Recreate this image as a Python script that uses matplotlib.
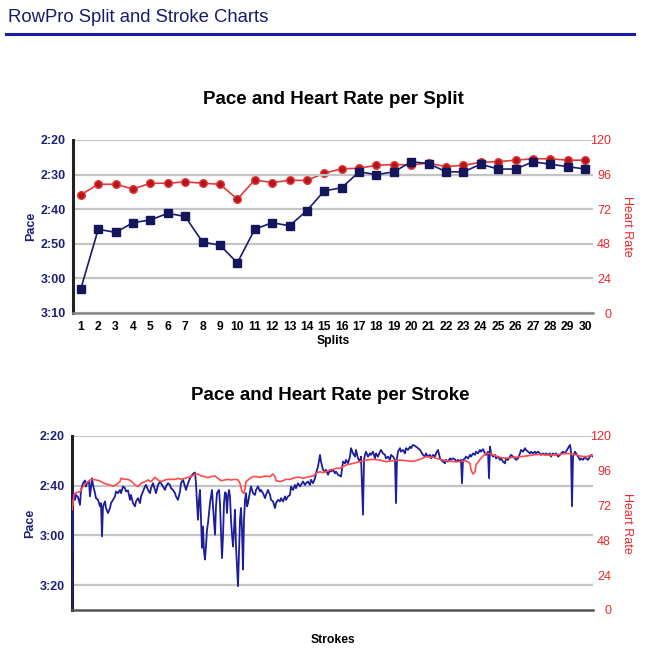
import matplotlib
matplotlib.use("Agg")
import matplotlib.pyplot as plt
from matplotlib.lines import Line2D
from matplotlib.ticker import FuncFormatter

plt.rcParams['font.family'] = ['Liberation Sans', 'DejaVu Sans']

# ---------------- data ----------------
splits = list(range(1, 31))
split_pace = [183.0, 165.8, 166.7, 163.9, 163.1, 161.2, 162.1, 169.5, 170.4, 175.5,
              165.8, 163.9, 164.8, 160.4, 154.7, 153.8, 149.2, 150.0, 149.2, 146.3,
              146.8, 149.2, 149.2, 147.0, 148.4, 148.4, 146.3, 147.0, 147.7, 148.4]
split_hr = [82, 89.3, 89.3, 86, 90, 90, 91, 90, 89.3, 79,
            92.3, 90.5, 92, 92, 97, 100, 100.4, 102.5, 103, 102.7,
            104, 101.5, 102.5, 104.5, 105, 106, 107, 107, 106, 106]

stroke_pace_x = [0, 1, 3, 4, 6, 8, 9, 11, 13, 14, 15, 17, 18, 20, 21, 23, 24, 26, 28, 29,
                 30, 31, 33, 34, 36, 38, 39, 41, 43, 44, 46, 48, 49, 51, 53, 54, 56, 58, 59, 61,
                 63, 64, 66, 68, 69, 71, 73, 74, 76, 78, 79, 81, 83, 84, 86, 88, 89, 91, 93, 94,
                 96, 98, 99, 101, 103, 104, 106, 108, 109, 111, 113, 114, 116, 118, 119, 121, 123, 124, 125, 126,
                 127, 128, 129, 130, 131, 132, 133, 134, 135, 136, 138, 139, 140, 141, 142, 143, 144, 145, 146, 147,
                 148, 149, 150, 151, 152, 153, 154, 155, 156, 157, 158, 159, 160, 161, 162, 163, 164, 165, 166, 167,
                 168, 169, 170, 171, 172, 173, 174, 175, 176, 178, 179, 181, 183, 184, 186, 188, 189, 191, 193, 194,
                 196, 198, 199, 201, 203, 204, 206, 208, 209, 211, 213, 214, 216, 218, 219, 221, 223, 224, 226, 228,
                 229, 231, 233, 234, 236, 238, 239, 241, 243, 244, 246, 248, 249, 251, 253, 254, 256, 258, 259, 261,
                 263, 264, 266, 269, 271, 273, 274, 276, 278, 279, 281, 283, 284, 286, 288, 289, 291, 292, 293, 294,
                 296, 298, 299, 301, 303, 304, 306, 308, 309, 311, 313, 314, 316, 318, 319, 321, 323, 324, 325, 326,
                 328, 329, 331, 333, 334, 336, 338, 339, 341, 343, 344, 346, 348, 349, 351, 353, 354, 356, 358, 359,
                 361, 363, 364, 366, 368, 369, 371, 373, 374, 376, 378, 379, 381, 383, 384, 386, 388, 389, 390, 391,
                 393, 394, 396, 398, 399, 401, 403, 404, 406, 408, 409, 411, 413, 414, 416, 417, 418, 419, 421, 423,
                 424, 426, 428, 429, 431, 433, 434, 436, 438, 439, 441, 443, 444, 446, 448, 449, 451, 453, 454, 456,
                 458, 459, 461, 463, 464, 466, 468, 469, 471, 473, 474, 476, 478, 479, 481, 483, 484, 486, 488, 489,
                 491, 493, 494, 496, 498, 499, 500, 501, 503, 504, 506, 508, 509, 511, 513, 514, 516, 518, 519, 521]
stroke_pace = [209.0, 162.3, 165.7, 163.7, 164.6, 167.7, 161.7, 159.0, 157.9, 160.3, 159.0, 158.3, 164.3, 157.0, 159.7, 163.0, 165.0, 165.7, 168.3, 167.0,
               180.4, 168.3, 166.3, 169.0, 171.0, 169.0, 167.0, 165.7, 164.3, 162.3, 163.0, 161.7, 163.0, 160.3, 161.0, 162.3, 161.9, 165.7, 163.7, 167.0,
               168.3, 166.3, 165.0, 167.0, 164.3, 162.3, 160.3, 159.7, 161.7, 163.0, 161.0, 159.0, 161.7, 163.0, 159.7, 158.3, 159.0, 160.3, 161.7, 160.3,
               159.0, 159.7, 161.0, 161.7, 163.0, 164.3, 165.7, 162.3, 159.0, 157.6, 160.3, 161.7, 159.0, 157.0, 156.3, 155.2, 154.7, 159.0, 167.0, 173.7,
               165.7, 161.7, 173.7, 185.0, 176.4, 186.4, 189.7, 184.4, 177.7, 175.0, 167.0, 164.3, 161.7, 168.3, 173.7, 179.7, 168.3, 163.0, 162.3, 161.7,
               167.0, 179.0, 189.1, 180.4, 167.0, 162.7, 163.0, 171.0, 164.3, 161.7, 164.3, 173.7, 179.7, 184.4, 177.7, 169.7, 184.4, 192.4, 200.4, 187.1,
               173.7, 169.0, 177.7, 193.7, 173.7, 165.7, 163.0, 168.3, 167.0, 162.3, 160.3, 163.0, 163.7, 161.7, 160.3, 162.3, 161.7, 163.0, 165.0, 163.7,
               161.7, 163.7, 165.7, 166.3, 169.0, 167.0, 165.7, 166.3, 165.0, 166.3, 164.3, 165.7, 164.3, 163.7, 160.3, 161.7, 159.7, 161.0, 159.0, 160.3,
               159.7, 158.3, 159.7, 159.0, 158.3, 159.7, 157.6, 159.0, 157.0, 155.0, 152.3, 147.6, 150.3, 153.6, 154.3, 153.6, 155.6, 153.6, 154.3, 153.6,
               155.0, 154.3, 155.6, 156.3, 150.3, 151.0, 149.6, 151.0, 148.3, 144.9, 147.0, 148.3, 145.6, 149.0, 150.3, 148.3, 171.7, 149.6, 147.6, 146.3,
               148.3, 147.0, 147.6, 146.3, 149.0, 147.0, 148.3, 146.3, 145.6, 147.0, 147.6, 149.0, 148.3, 149.6, 147.6, 148.3, 149.6, 167.0, 149.0, 146.3,
               144.9, 146.3, 145.6, 147.0, 144.9, 145.6, 144.3, 144.9, 143.6, 144.0, 144.3, 144.9, 145.6, 146.3, 147.6, 148.3, 147.0, 148.3, 147.6, 149.0,
               147.6, 148.3, 147.0, 145.6, 149.0, 149.6, 150.3, 151.0, 149.6, 150.3, 149.0, 149.6, 149.0, 149.4, 150.3, 149.6, 150.3, 149.6, 159.0, 149.6,
               149.0, 148.3, 149.0, 147.6, 148.3, 147.0, 147.6, 146.3, 147.0, 145.6, 146.3, 145.3, 147.0, 147.6, 146.3, 157.0, 144.3, 147.0, 148.3, 147.6,
               149.0, 148.3, 149.6, 149.0, 150.3, 151.0, 149.0, 149.6, 148.3, 147.6, 148.3, 149.0, 149.6, 149.0, 147.0, 145.6, 146.3, 144.9, 145.6, 146.3,
               147.0, 146.3, 147.0, 146.3, 147.0, 146.3, 147.0, 147.6, 147.0, 147.6, 147.0, 147.6, 147.0, 148.3, 147.0, 147.6, 147.0, 148.3, 147.6, 147.0,
               146.3, 147.0, 146.3, 144.9, 143.6, 146.3, 168.3, 148.3, 146.3, 147.0, 148.3, 149.6, 149.0, 149.6, 148.3, 149.0, 149.6, 148.3, 147.6, 148.3]

stroke_hr_x = [0, 2, 4, 8, 11, 14, 18, 21, 24, 28, 31, 34, 38, 41, 44, 48, 49, 53, 56, 59,
               63, 66, 69, 73, 76, 79, 83, 86, 89, 93, 96, 99, 103, 106, 109, 113, 116, 119, 123, 126,
               129, 133, 136, 139, 143, 146, 149, 153, 156, 159, 163, 166, 168, 170, 172, 173, 174, 178, 181, 184,
               188, 191, 194, 198, 201, 203, 204, 208, 211, 214, 218, 221, 224, 228, 231, 234, 238, 241, 244, 248,
               251, 254, 258, 261, 264, 268, 274, 281, 288, 294, 301, 308, 314, 321, 328, 334, 341, 348, 354, 361,
               368, 374, 381, 388, 394, 398, 399, 401, 403, 404, 408, 411, 414, 418, 421, 428, 434, 441, 448, 454,
               461, 468, 474, 481, 488, 494, 501, 508, 514, 521]
stroke_hr = [69.0, 79.3, 80.9, 81.6, 85.1, 87.4, 89.7, 90.1, 89.7, 89.0, 87.8, 86.9, 86.2, 85.5, 86.2, 88.5, 90.8, 90.1, 90.1, 89.0,
             86.2, 85.1, 87.4, 88.5, 89.7, 88.5, 91.5, 89.7, 88.5, 89.7, 90.1, 90.1, 90.1, 90.8, 90.1, 90.8, 91.5, 92.0, 93.6, 93.8,
             92.4, 92.0, 91.3, 92.0, 92.4, 90.8, 89.2, 89.7, 90.1, 89.7, 90.1, 89.7, 87.4, 81.6, 80.5, 83.9, 88.5, 90.8, 92.0, 92.0,
             91.5, 92.0, 92.4, 92.0, 93.8, 92.0, 89.2, 88.5, 89.2, 90.1, 90.1, 90.8, 91.5, 91.5, 90.8, 91.5, 92.0, 92.4, 94.3, 95.4,
             94.7, 95.4, 96.6, 97.0, 97.7, 97.7, 100.0, 101.1, 102.3, 103.4, 103.9, 103.4, 102.3, 103.0, 103.4, 103.0, 102.5, 103.9, 105.7, 105.3,
             103.9, 103.0, 102.3, 102.3, 103.0, 101.1, 96.6, 93.8, 95.4, 100.0, 103.9, 106.2, 108.0, 108.0, 106.9, 105.3, 104.6, 105.3, 105.7, 106.2,
             106.9, 107.4, 106.9, 106.9, 107.4, 108.0, 107.6, 106.2, 105.7, 106.9]

NAVY = '#1f1f78'
RED = '#e8262b'
GRID = '#c4c4c4'


def pace_fmt(v, pos):
    v = int(round(v))
    return f"{v // 60}:{v % 60:02d}"


def style_axes(ax, ax2, bottom_color):
    ax.yaxis.set_major_formatter(FuncFormatter(pace_fmt))
    ax.yaxis.grid(True, color=GRID, lw=1.6)
    ax.set_axisbelow(True)
    for s in ['top', 'right']:
        ax.spines[s].set_visible(False)
    for s in ['top', 'right', 'left', 'bottom']:
        ax2.spines[s].set_visible(False)
    ax.spines['left'].set_color('#222222')
    ax.spines['left'].set_linewidth(2.2)
    ax.spines['bottom'].set_color(bottom_color)
    ax.spines['bottom'].set_linewidth(1.8)
    ax.tick_params(axis='y', length=0, pad=5, labelsize=9, labelcolor=NAVY)
    for t in ax.get_yticklabels():
        t.set_fontweight('bold')
    # right labels are right-aligned a little past the plot edge
    ax2.tick_params(axis='y', length=0, pad=13, labelsize=9, labelcolor=RED)
    for t in ax2.get_yticklabels():
        t.set_horizontalalignment('right')
    ax.set_ylabel('Pace', color=NAVY, fontsize=9, fontweight='bold', labelpad=3)
    ax2.set_ylabel('Heart Rate', color=RED, fontsize=9,
                   rotation=270, labelpad=16)


fig = plt.figure(figsize=(6.51, 6.63), dpi=100)

# header
fig.text(8 / 651, 1 - 17 / 663, 'RowPro Split and Stroke Charts', fontsize=13.3,
         color='#1a1a6a', va='center', ha='left')
fig.add_artist(Line2D([6 / 651, 634 / 651], [1 - 34 / 663, 1 - 34 / 663],
                      color='#1c1ca0', lw=2.2))

# ---------------- split chart ----------------
ax = fig.add_axes([73 / 651, 1 - 313 / 663, 520 / 651, 173 / 663])
ax2 = ax.twinx()
ax.plot(splits, split_pace, color='#1a1a70', lw=1.2, marker='s', ms=5.5,
        mfc='#15155c', mec='#15155c', zorder=3)
ax2.plot(splits, split_hr, color='#e23a3a', lw=1.2, marker='o', ms=5.5,
         mfc='#b5141a', mec='#e23a3a', zorder=3)
ax.set_ylim(190, 140)
ax.set_yticks([140, 150, 160, 170, 180, 190])
ax2.set_ylim(0, 120)
ax2.set_yticks([0, 24, 48, 72, 96, 120])
ax.set_xlim(0.55, 30.45)
ax.set_xticks(splits)
ax.tick_params(axis='x', length=0, pad=6, labelsize=8.7)
for t in ax.get_xticklabels():
    t.set_fontweight('bold')
ax.set_xlabel('Splits', fontsize=8.7, fontweight='bold', labelpad=1)
style_axes(ax, ax2, '#8a8a8a')
ax.set_zorder(ax2.get_zorder() + 1)
ax.patch.set_visible(False)
fig.text(333 / 651, 1 - 100 / 663, 'Pace and Heart Rate per Split', fontsize=13.5,
         fontweight='bold', ha='center', va='center')

# ---------------- stroke chart ----------------
bx = fig.add_axes([72 / 651, 1 - 610 / 663, 521 / 651, 174 / 663])
bx2 = bx.twinx()
bx.plot(stroke_pace_x, stroke_pace, color='#1e1e9c', lw=1.3, zorder=3)
bx2.plot(stroke_hr_x, stroke_hr, color='#ff4b4b', lw=1.2, zorder=2)
bx.set_ylim(210, 140)
bx.set_yticks([140, 160, 180, 200])
bx2.set_ylim(0, 120)
bx2.set_yticks([0, 24, 48, 72, 96, 120])
bx.set_xlim(0, 521)
bx.set_xticks([])
bx.set_xlabel('Strokes', fontsize=8.7, fontweight='bold', labelpad=17)
style_axes(bx, bx2, '#555555')
fig.text(330 / 651, 1 - 395 / 663, 'Pace and Heart Rate per Stroke', fontsize=13.5,
         fontweight='bold', ha='center', va='center')

fig.savefig('out.png', dpi=100)
